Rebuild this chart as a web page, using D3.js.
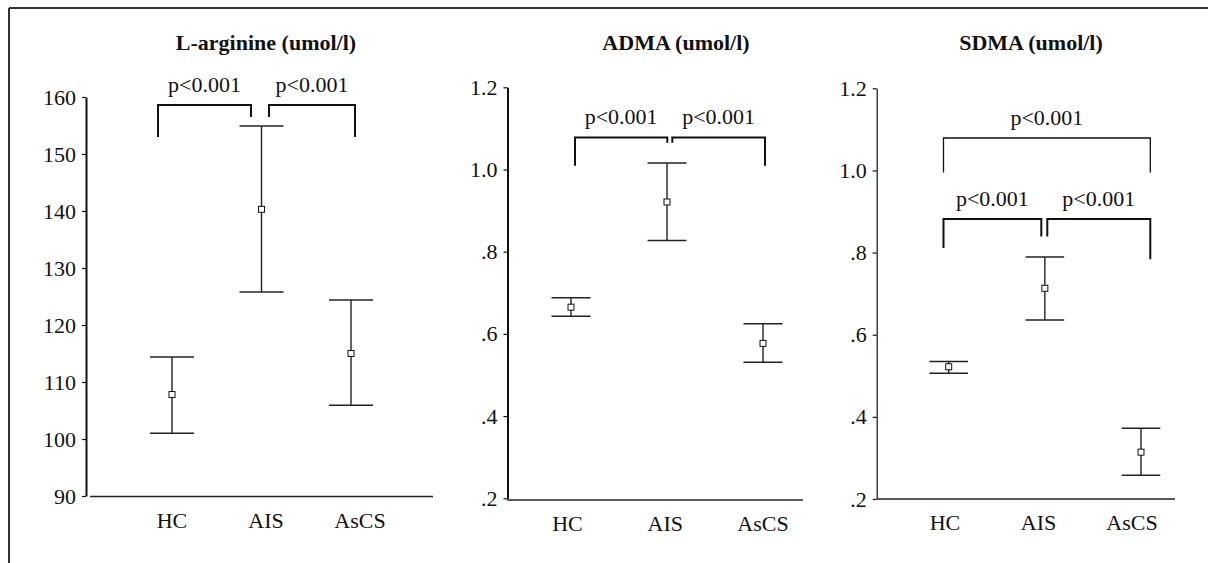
<!DOCTYPE html>
<html>
<head>
<meta charset="utf-8">
<script src="https://cdn.jsdelivr.net/npm/d3@7"></script>
<style>
  body { margin: 0; background: #fff; }
  svg text { font-family: "Liberation Serif", "Times New Roman", serif; fill: #111; }
</style>
</head>
<body>
<svg id="chart" width="1208" height="563"></svg>
<script>
// groups shown on every panel
const categories = ["HC", "AIS", "AsCS"];

// L-arginine (umol/l)
const argTitle = "L-arginine (umol/l)";
const argMean = [107.8, 140.3, 115.0];
const argLow = [101.0, 125.8, 105.9];
const argHigh = [114.4, 154.9, 124.4];
const argTicks = [90, 100, 110, 120, 130, 140, 150, 160];
const argTickLabels = ["90", "100", "110", "120", "130", "140", "150", "160"];
const argBrackets = [
  { from: "HC", to: "AIS", text: "p<0.001", top: 158.6, dropFrom: 153.0, dropTo: 156.5 },
  { from: "AIS", to: "AsCS", text: "p<0.001", top: 158.6, dropFrom: 156.5, dropTo: 153.0 }
];

// ADMA (umol/l)
const admaTitle = "ADMA (umol/l)";
const admaMean = [0.665, 0.921, 0.577];
const admaLow = [0.643, 0.827, 0.531];
const admaHigh = [0.688, 1.016, 0.625];
const admaTicks = [0.2, 0.4, 0.6, 0.8, 1.0, 1.2];
const admaTickLabels = [".2", ".4", ".6", ".8", "1.0", "1.2"];
const admaBrackets = [
  { from: "HC", to: "AIS", text: "p<0.001", top: 1.078, dropFrom: 1.009, dropTo: 1.065 },
  { from: "AIS", to: "AsCS", text: "p<0.001", top: 1.078, dropFrom: 1.065, dropTo: 1.009 }
];

// SDMA (umol/l)
const sdmaTitle = "SDMA (umol/l)";
const sdmaMean = [0.522, 0.713, 0.314];
const sdmaLow = [0.506, 0.636, 0.258];
const sdmaHigh = [0.535, 0.789, 0.372];
const sdmaTicks = [0.2, 0.4, 0.6, 0.8, 1.0, 1.2];
const sdmaTickLabels = [".2", ".4", ".6", ".8", "1.0", "1.2"];
const sdmaBrackets = [
  { from: "HC", to: "AsCS", text: "p<0.001", top: 1.079, dropFrom: 0.995, dropTo: 0.995, width: 1.3 },
  { from: "HC", to: "AIS", text: "p<0.001", top: 0.882, dropFrom: 0.811, dropTo: 0.839 },
  { from: "AIS", to: "AsCS", text: "p<0.001", top: 0.882, dropFrom: 0.839, dropTo: 0.784 }
];

const svg = d3.select("#chart");

// frame around the figure (top and left edges only)
svg.append("line").attr("x1", 9).attr("y1", 8).attr("x2", 1208).attr("y2", 8)
  .attr("stroke", "#333").attr("stroke-width", 2);
svg.append("line").attr("x1", 9).attr("y1", 8).attr("x2", 9).attr("y2", 563)
  .attr("stroke", "#333").attr("stroke-width", 2);

const panels = [
  {
    title: argTitle, mean: argMean, low: argLow, high: argHigh,
    ticks: argTicks, tickLabels: argTickLabels, brackets: argBrackets,
    domain: [90, 160], axisX: 86, yRange: [496, 97], yAxisW: 2,
    xLine: [90, 433], xLineY: 496.5, bars: [172, 351], labels: [172, 360],
    bx: [158, 260, 355], gap: 9, cap: 22, titleX: 266
  },
  {
    title: admaTitle, mean: admaMean, low: admaLow, high: admaHigh,
    ticks: admaTicks, tickLabels: admaTickLabels, brackets: admaBrackets,
    domain: [0.2, 1.2], axisX: 507.5, yRange: [498.3, 87.3], yAxisW: 2,
    xLine: [507, 803], xLineY: 500, bars: [571, 763], labels: [567.5, 763],
    bx: [575, 669.8, 765], gap: 2.5, cap: 19.5, titleX: 676
  },
  {
    title: sdmaTitle, mean: sdmaMean, low: sdmaLow, high: sdmaHigh,
    ticks: sdmaTicks, tickLabels: sdmaTickLabels, brackets: sdmaBrackets,
    domain: [0.2, 1.2], axisX: 876.7, yRange: [499, 88.3], yAxisW: 1.2,
    xLine: [877, 1175], xLineY: 499, bars: [948.7, 1141], labels: [945, 1132],
    bx: [943.5, 1044.3, 1150.3], gap: 3, cap: 19.3, titleX: 1031
  }
];

panels.forEach(p => {
  const g = svg.append("g");

  const y = d3.scaleLinear().domain(p.domain).range(p.yRange);
  const x = d3.scalePoint().domain(categories).range(p.bars);
  const xl = d3.scalePoint().domain(categories).range(p.labels);
  const xb = d3.scalePoint().domain(categories).range([p.bx[0], p.bx[2]]);
  // bracket legs: outer legs sit on the ends, the middle group leaves a small gap
  const legX = (cat, side) => {
    if (cat === categories[1]) return p.bx[1] + (side === "start" ? p.gap : -p.gap);
    return xb(cat);
  };

  // title
  g.append("text")
    .attr("x", p.titleX).attr("y", 50)
    .attr("text-anchor", "middle")
    .attr("font-size", 22).attr("font-weight", "bold")
    .text(p.title);

  // y axis
  const yAxis = d3.axisLeft(y)
    .tickValues(p.ticks)
    .tickFormat((d, i) => p.tickLabels[i])
    .tickSizeInner(4).tickSizeOuter(0).tickPadding(6);
  const ya = g.append("g").attr("transform", `translate(${p.axisX},0)`).call(yAxis);
  ya.select(".domain").attr("stroke", "#111").attr("stroke-width", p.yAxisW);
  ya.selectAll(".tick line").attr("stroke", "#111").attr("stroke-width", 1.2);
  ya.selectAll(".tick text")
    .attr("font-size", 22).attr("fill", "#111")
    .style("font-family", '"Liberation Serif", serif');

  // x axis line and group labels
  g.append("line")
    .attr("x1", p.xLine[0]).attr("x2", p.xLine[1])
    .attr("y1", p.xLineY).attr("y2", p.xLineY)
    .attr("stroke", "#222").attr("stroke-width", 1.6);
  g.selectAll(".cat").data(categories).enter().append("text")
    .attr("x", d => xl(d)).attr("y", p.xLineY + 31)
    .attr("text-anchor", "middle").attr("font-size", 22)
    .text(d => d);

  // error bars
  const rows = categories.map((c, i) => ({ c, m: p.mean[i], lo: p.low[i], hi: p.high[i] }));
  const eb = g.selectAll(".eb").data(rows).enter().append("g");
  eb.append("line")
    .attr("x1", d => x(d.c)).attr("x2", d => x(d.c))
    .attr("y1", d => y(d.lo)).attr("y2", d => y(d.hi))
    .attr("stroke", "#222").attr("stroke-width", 1.4);
  eb.append("line")
    .attr("x1", d => x(d.c) - p.cap).attr("x2", d => x(d.c) + p.cap)
    .attr("y1", d => y(d.hi)).attr("y2", d => y(d.hi))
    .attr("stroke", "#222").attr("stroke-width", 1.5);
  eb.append("line")
    .attr("x1", d => x(d.c) - p.cap).attr("x2", d => x(d.c) + p.cap)
    .attr("y1", d => y(d.lo)).attr("y2", d => y(d.lo))
    .attr("stroke", "#222").attr("stroke-width", 1.5);
  eb.append("rect")
    .attr("x", d => x(d.c) - 3).attr("y", d => y(d.m) - 3)
    .attr("width", 6).attr("height", 6)
    .attr("fill", "#fff").attr("stroke", "#111").attr("stroke-width", 1);

  // significance brackets
  p.brackets.forEach(b => {
    const x1 = legX(b.from, "start");
    const x2 = legX(b.to, "end");
    g.append("path")
      .attr("d", `M${x1},${y(b.dropFrom)}V${y(b.top)}H${x2}V${y(b.dropTo)}`)
      .attr("fill", "none").attr("stroke", "#111")
      .attr("stroke-width", b.width || 2);
    g.append("text")
      .attr("x", (x1 + x2) / 2).attr("y", y(b.top) - 13)
      .attr("text-anchor", "middle").attr("font-size", 22)
      .text(b.text);
  });
});
</script>
</body>
</html>
